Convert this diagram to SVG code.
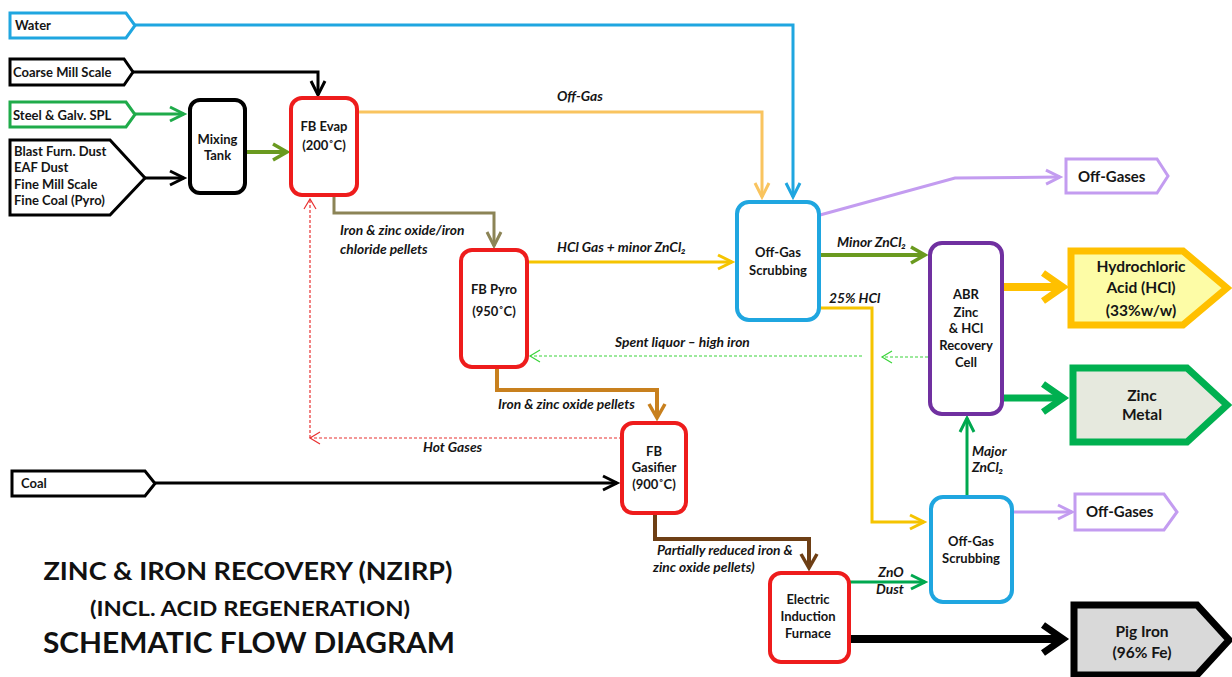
<svg xmlns="http://www.w3.org/2000/svg" width="1232" height="677" viewBox="0 0 1232 677">
<style>
.t{font-family:Lato,"Liberation Sans",sans-serif;font-weight:bold;font-size:13px;fill:#151515}
.c{text-anchor:middle}
.i{font-style:italic;font-size:13.8px}
.big{font-size:15.5px}
.og{font-size:15px}
.node{fill:#fff;stroke-width:4}
.red{stroke:#ee1c1c}
.ln{fill:none;stroke-linejoin:miter}
.ttl{font-family:Lato,"Liberation Sans",sans-serif;font-weight:bold;fill:#111;text-anchor:middle}
</style>
<defs>
<marker id="m-blue" viewBox="0 0 20 20" refX="16" refY="10" markerWidth="20" markerHeight="20" markerUnits="userSpaceOnUse" orient="auto" overflow="visible"><path d="M2,3 L16,10 L2,17" fill="none" stroke="#1fa6e0" stroke-width="3"/></marker>
<marker id="m-black" viewBox="0 0 20 20" refX="16" refY="10" markerWidth="20" markerHeight="20" markerUnits="userSpaceOnUse" orient="auto" overflow="visible"><path d="M2,3 L16,10 L2,17" fill="none" stroke="#000" stroke-width="3"/></marker>
<marker id="m-green" viewBox="0 0 20 20" refX="16" refY="10" markerWidth="20" markerHeight="20" markerUnits="userSpaceOnUse" orient="auto" overflow="visible"><path d="M2,3 L16,10 L2,17" fill="none" stroke="#1fab4a" stroke-width="3"/></marker>
<marker id="m-olive" viewBox="0 0 20 20" refX="16" refY="10" markerWidth="20" markerHeight="20" markerUnits="userSpaceOnUse" orient="auto" overflow="visible"><path d="M2,2 L16,10 L2,18" fill="none" stroke="#6a9a1f" stroke-width="3.5"/></marker>
<marker id="m-offgas" viewBox="0 0 20 20" refX="16" refY="10" markerWidth="20" markerHeight="20" markerUnits="userSpaceOnUse" orient="auto" overflow="visible"><path d="M2,3 L16,10 L2,17" fill="none" stroke="#f9c45f" stroke-width="3"/></marker>
<marker id="m-khaki" viewBox="0 0 20 20" refX="16" refY="10" markerWidth="20" markerHeight="20" markerUnits="userSpaceOnUse" orient="auto" overflow="visible"><path d="M2,3 L16,10 L2,17" fill="none" stroke="#8c8456" stroke-width="3"/></marker>
<marker id="m-yellow" viewBox="0 0 20 20" refX="16" refY="10" markerWidth="20" markerHeight="20" markerUnits="userSpaceOnUse" orient="auto" overflow="visible"><path d="M2,3 L16,10 L2,17" fill="none" stroke="#f5c400" stroke-width="3"/></marker>
<marker id="m-purple" viewBox="0 0 20 20" refX="16" refY="10" markerWidth="20" markerHeight="20" markerUnits="userSpaceOnUse" orient="auto" overflow="visible"><path d="M2,3 L16,10 L2,17" fill="none" stroke="#c39cf0" stroke-width="3"/></marker>
<marker id="m-orange" viewBox="0 0 20 20" refX="16" refY="10" markerWidth="20" markerHeight="20" markerUnits="userSpaceOnUse" orient="auto" overflow="visible"><path d="M2,2 L16,10 L2,18" fill="none" stroke="#c8801e" stroke-width="3.5"/></marker>
<marker id="m-brown" viewBox="0 0 20 20" refX="16" refY="10" markerWidth="20" markerHeight="20" markerUnits="userSpaceOnUse" orient="auto" overflow="visible"><path d="M2,2 L16,10 L2,18" fill="none" stroke="#6e3f15" stroke-width="3.5"/></marker>
<marker id="m-green2" viewBox="0 0 20 20" refX="16" refY="10" markerWidth="20" markerHeight="20" markerUnits="userSpaceOnUse" orient="auto" overflow="visible"><path d="M2,3 L16,10 L2,17" fill="none" stroke="#00a84f" stroke-width="3"/></marker>
<marker id="m-redd" viewBox="0 0 20 20" refX="14" refY="10" markerWidth="20" markerHeight="20" markerUnits="userSpaceOnUse" orient="auto" overflow="visible"><path d="M4,4 L14,10 L4,16" fill="none" stroke="#e83030" stroke-width="1.2"/></marker>
<marker id="m-greend" viewBox="0 0 20 20" refX="14" refY="10" markerWidth="20" markerHeight="20" markerUnits="userSpaceOnUse" orient="auto" overflow="visible"><path d="M4,4 L14,10 L4,16" fill="none" stroke="#3ad43a" stroke-width="1.2"/></marker>
<marker id="m-torange" viewBox="0 0 30 34" refX="20" refY="17" markerWidth="30" markerHeight="34" markerUnits="userSpaceOnUse" orient="auto" overflow="visible"><path d="M3,3 L23,17 L3,31" fill="none" stroke="#ffc000" stroke-width="7"/></marker>
<marker id="m-tgreen" viewBox="0 0 30 34" refX="20" refY="17" markerWidth="30" markerHeight="34" markerUnits="userSpaceOnUse" orient="auto" overflow="visible"><path d="M3,3 L23,17 L3,31" fill="none" stroke="#00b050" stroke-width="7"/></marker>
<marker id="m-tblack" viewBox="0 0 30 34" refX="20" refY="17" markerWidth="30" markerHeight="34" markerUnits="userSpaceOnUse" orient="auto" overflow="visible"><path d="M3,3 L23,17 L3,31" fill="none" stroke="#000" stroke-width="7"/></marker>
</defs>

<g id="connectors">
<polyline class="ln" points="135,25 793,25 793,197" stroke="#1fa6e0" stroke-width="3" marker-end="url(#m-blue)"/>
<polyline class="ln" points="133,72 318,72 318,95" stroke="#000" stroke-width="3" marker-end="url(#m-black)"/>
<line x1="135" y1="114" x2="184" y2="114" stroke="#1fab4a" stroke-width="3" marker-end="url(#m-green)"/>
<line x1="145" y1="178" x2="184" y2="178" stroke="#000" stroke-width="3" marker-end="url(#m-black)"/>
<line x1="245" y1="152" x2="287" y2="152" stroke="#6a9a1f" stroke-width="4" marker-end="url(#m-olive)"/>
<polyline class="ln" points="357,112 762,112 762,197" stroke="#f9c45f" stroke-width="3" marker-end="url(#m-offgas)"/>
<polyline class="ln" points="334,195 334,213 494,213 494,246" stroke="#8c8456" stroke-width="3" marker-end="url(#m-khaki)"/>
<line x1="528" y1="262" x2="732" y2="262" stroke="#f5c400" stroke-width="3" marker-end="url(#m-yellow)"/>
<polyline class="ln" points="820,215 955,178 1060,177" stroke="#c39cf0" stroke-width="3" marker-end="url(#m-purple)"/>
<line x1="820" y1="255" x2="925" y2="255" stroke="#6a9a1f" stroke-width="4" marker-end="url(#m-olive)"/>
<polyline class="ln" points="820,308 872,308 872,522 924,522" stroke="#f5c400" stroke-width="3" marker-end="url(#m-yellow)"/>
<line x1="928" y1="357" x2="882" y2="357" stroke="#3ad43a" stroke-width="1.2" stroke-dasharray="3,2" marker-end="url(#m-greend)"/>
<line x1="862" y1="356" x2="530" y2="356" stroke="#3ad43a" stroke-width="1.2" stroke-dasharray="3,2" marker-end="url(#m-greend)"/>
<polyline class="ln" points="497,367 497,390 657,390 657,418" stroke="#c8801e" stroke-width="4" marker-end="url(#m-orange)"/>
<line x1="622" y1="438" x2="310" y2="438" stroke="#e83030" stroke-width="1.2" stroke-dasharray="3,2" marker-end="url(#m-redd)"/>
<line x1="310" y1="438" x2="310" y2="199" stroke="#e83030" stroke-width="1.2" stroke-dasharray="3,2" marker-end="url(#m-redd)"/>
<line x1="155" y1="483" x2="617" y2="483" stroke="#000" stroke-width="3" marker-end="url(#m-black)"/>
<polyline class="ln" points="655,513 655,539 809,539 809,568" stroke="#6e3f15" stroke-width="4" marker-end="url(#m-brown)"/>
<line x1="849" y1="582" x2="925" y2="582" stroke="#00a84f" stroke-width="3" marker-end="url(#m-green2)"/>
<line x1="967" y1="497" x2="967" y2="418" stroke="#00a84f" stroke-width="3" marker-end="url(#m-green2)"/>
<line x1="1012" y1="512" x2="1072" y2="512" stroke="#c39cf0" stroke-width="3" marker-end="url(#m-purple)"/>
<line x1="1003" y1="287" x2="1060" y2="287" stroke="#ffc000" stroke-width="8" marker-end="url(#m-torange)"/>
<line x1="1003" y1="398" x2="1060" y2="398" stroke="#00b050" stroke-width="7" marker-end="url(#m-tgreen)"/>
<line x1="849" y1="639" x2="1060" y2="639" stroke="#000" stroke-width="8" marker-end="url(#m-tblack)"/>
</g>

<g id="labels">
<text class="t i" x="557" y="101">Off-Gas</text>
<text class="t i" x="340" y="235">Iron &amp; zinc oxide/iron</text>
<text class="t i" x="340" y="254">chloride pellets</text>
<text class="t i" x="557" y="252">HCl Gas + minor ZnCl₂</text>
<text class="t i" x="837" y="247">Minor ZnCl₂</text>
<text class="t i" x="829" y="303">25% HCl</text>
<text class="t i" x="615" y="347">Spent liquor – high iron</text>
<text class="t i" x="498" y="409">Iron &amp; zinc oxide pellets</text>
<text class="t i" x="423" y="452">Hot Gases</text>
<text class="t i" x="972" y="456">Major</text>
<text class="t i" x="972" y="472">ZnCl₂</text>
<text class="t i" x="657" y="555">Partially reduced iron &amp;</text>
<text class="t i" x="653" y="572">zinc oxide pellets)</text>
<text class="t i c" x="891" y="577">ZnO</text>
<text class="t i c" x="890" y="594">Dust</text>
</g>

<g id="in-water"><path d="M10,13 H126 L135,25.5 L126,38 H10 Z" fill="#fff" stroke="#1fa6e0" stroke-width="3"/><text class="t" x="15" y="30">Water</text></g>
<g id="in-coarse"><path d="M10,59 H124 L133,72 L124,85 H10 Z" fill="#fff" stroke="#000" stroke-width="3"/><text class="t" x="13" y="77">Coarse Mill Scale</text></g>
<g id="in-steel"><path d="M10,102 H126 L135,114.5 L126,127 H10 Z" fill="#fff" stroke="#1fab4a" stroke-width="3"/><text class="t" x="13" y="119.5">Steel &amp; Galv. SPL</text></g>
<g id="in-blast"><path d="M10,140 H110 L145,178 L110,215 H10 Z" fill="#fff" stroke="#000" stroke-width="3"/>
<text class="t" x="14" y="156">Blast Furn. Dust</text><text class="t" x="14" y="172">EAF Dust</text><text class="t" x="14" y="189">Fine Mill Scale</text><text class="t" x="14" y="205">Fine Coal (Pyro)</text></g>
<g id="in-coal"><path d="M12,471 H145 L155,483.5 L145,496 H12 Z" fill="#fff" stroke="#000" stroke-width="3"/><text class="t" x="21" y="488">Coal</text></g>

<g id="mixing-tank"><rect x="190" y="100" width="55" height="93" rx="10" class="node" stroke="#000"/><text class="t c" x="217.5" y="144">Mixing</text><text class="t c" x="217.5" y="160">Tank</text></g>
<g id="fb-evap"><rect x="291" y="98" width="66" height="97" rx="11" class="node red"/><text class="t c" x="324" y="131">FB Evap</text><text class="t c" x="324" y="150">(200˚C)</text></g>
<g id="fb-pyro"><rect x="461" y="250" width="66" height="117" rx="11" class="node red"/><text class="t c" x="494" y="294">FB Pyro</text><text class="t c" x="494" y="316">(950˚C)</text></g>
<g id="scrub-top"><rect x="737" y="202" width="82" height="118" rx="12" class="node" stroke="#1fa6e0"/><text class="t c" x="778" y="257">Off-Gas</text><text class="t c" x="778" y="275">Scrubbing</text></g>
<g id="abr"><rect x="930" y="243" width="72" height="171" rx="12" class="node" stroke="#7030a0"/>
<text class="t c" x="966" y="299">ABR</text><text class="t c" x="966" y="317">Zinc</text><text class="t c" x="966" y="333">&amp; HCl</text><text class="t c" x="966" y="350">Recovery</text><text class="t c" x="966" y="367">Cell</text></g>
<g id="fb-gasifier"><rect x="622" y="423" width="64" height="90" rx="11" class="node red"/><text class="t c" x="654" y="456">FB</text><text class="t c" x="654" y="472">Gasifier</text><text class="t c" x="654" y="489">(900˚C)</text></g>
<g id="eif"><rect x="770" y="573" width="79" height="89" rx="11" class="node red"/><text class="t c" x="808" y="604">Electric</text><text class="t c" x="808" y="621">Induction</text><text class="t c" x="808" y="638">Furnace</text></g>
<g id="scrub-bottom"><rect x="931" y="497" width="81" height="105" rx="12" class="node" stroke="#1fa6e0"/><text class="t c" x="971" y="546">Off-Gas</text><text class="t c" x="971" y="563">Scrubbing</text></g>

<g id="out-offgas1"><path d="M1066,159 H1157 L1168,176 L1157,193 H1066 Z" fill="#fff" stroke="#c39cf0" stroke-width="3"/><text class="t og" x="1078" y="181.5">Off-Gases</text></g>
<g id="out-offgas2"><path d="M1075,494 H1164 L1177,512 L1164,530 H1075 Z" fill="#fff" stroke="#c39cf0" stroke-width="3"/><text class="t og" x="1086" y="517">Off-Gases</text></g>
<g id="out-hcl"><path d="M1071,251 H1183 L1227,288 L1183,325 H1071 Z" fill="#fdfca6" stroke="#ffc000" stroke-width="7"/>
<text class="t big c" x="1141" y="272">Hydrochloric</text><text class="t big c" x="1141" y="293">Acid (HCl)</text><text class="t big c" x="1141" y="316">(33%w/w)</text></g>
<g id="out-zinc"><path d="M1073,368 H1187 L1227,405 L1187,442 H1073 Z" fill="#e6e9de" stroke="#00b050" stroke-width="7"/>
<text class="t big c" x="1142" y="401">Zinc</text><text class="t big c" x="1142" y="420">Metal</text></g>
<g id="out-pig"><path d="M1074,605 H1197 L1229,640 L1197,675 H1074 Z" fill="#d9d9d9" stroke="#000" stroke-width="7"/>
<text class="t big c" x="1142" y="637">Pig Iron</text><text class="t big c" x="1142" y="658">(96% Fe)</text></g>

<g id="title">
<text class="ttl" x="248" y="580" font-size="25" textLength="409" lengthAdjust="spacingAndGlyphs">ZINC &amp; IRON RECOVERY (NZIRP)</text>
<text class="ttl" x="250" y="616" font-size="21" textLength="320" lengthAdjust="spacingAndGlyphs">(INCL. ACID REGENERATION)</text>
<text class="ttl" x="249" y="653" font-size="29" textLength="412" lengthAdjust="spacingAndGlyphs">SCHEMATIC FLOW DIAGRAM</text>
</g>
</svg>
